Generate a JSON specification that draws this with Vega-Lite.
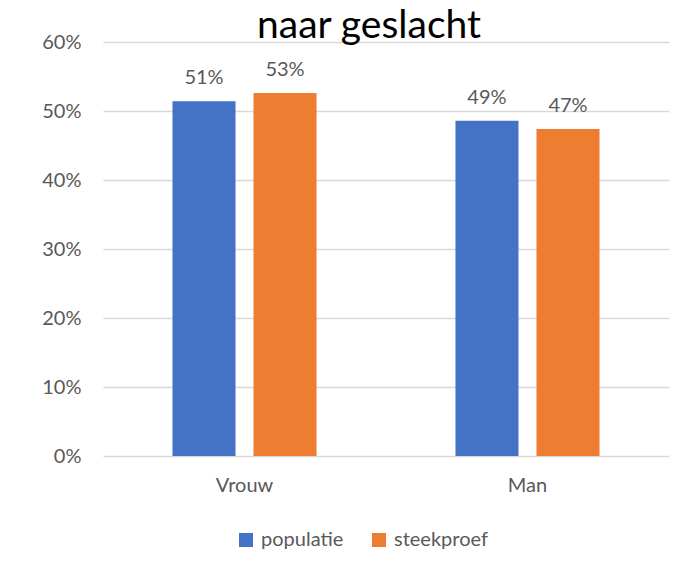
{
  "$schema": "https://vega.github.io/schema/vega-lite/v6.json",
  "width": 566,
  "height": 414,
  "autosize": {"type": "none"},
  "padding": {"left": 103, "top": 42, "right": 17, "bottom": 116},
  "background": "white",
  "title": {
    "text": "naar geslacht",
    "font": "Lato",
    "fontSize": 39,
    "fontWeight": "normal",
    "color": "#000000",
    "anchor": "middle",
    "frame": "group",
    "dx": -17,
    "dy": 49,
    "baseline": "alphabetic",
    "offset": 4
  },
  "data": {
    "values": [
      {"geslacht": "Vrouw", "reeks": "populatie", "waarde": 0.514},
      {"geslacht": "Vrouw", "reeks": "steekproef", "waarde": 0.526},
      {"geslacht": "Man", "reeks": "populatie", "waarde": 0.486},
      {"geslacht": "Man", "reeks": "steekproef", "waarde": 0.474}
    ]
  },
  "encoding": {
    "x": {
      "field": "geslacht",
      "type": "nominal",
      "sort": ["Vrouw", "Man"],
      "scale": {"paddingInner": 0.491, "paddingOuter": 0.2456},
      "axis": {
        "title": null,
        "labelAngle": 0,
        "domain": false,
        "ticks": false,
        "labelFont": "Lato",
        "labelFontSize": 20,
        "labelColor": "#595959",
        "labelPadding": 19
      }
    },
    "xOffset": {
      "field": "reeks",
      "type": "nominal",
      "sort": ["populatie", "steekproef"],
      "scale": {"paddingInner": 0.222}
    },
    "y": {
      "field": "waarde",
      "type": "quantitative",
      "scale": {"domain": [0, 0.6], "nice": false},
      "axis": {
        "title": null,
        "values": [0, 0.1, 0.2, 0.3, 0.4, 0.5, 0.6],
        "format": ".0%",
        "domain": false,
        "ticks": false,
        "grid": true,
        "gridColor": "#D9D9D9",
        "gridWidth": 1.5,
        "labelFont": "Lato",
        "labelFontSize": 20,
        "labelColor": "#595959",
        "labelPadding": 22
      }
    }
  },
  "layer": [
    {
      "mark": {"type": "bar"},
      "encoding": {
        "color": {
          "field": "reeks",
          "type": "nominal",
          "sort": ["populatie", "steekproef"],
          "scale": {"domain": ["populatie", "steekproef"], "range": ["#4472C4", "#ED7D31"]},
          "legend": {
            "title": null,
            "orient": "none",
            "legendX": 133,
            "legendY": 488,
            "direction": "horizontal",
            "symbolType": "square",
            "symbolSize": 196,
            "symbolStrokeWidth": 0,
            "labelFont": "Lato",
            "labelFontSize": 20,
            "labelColor": "#595959",
            "labelOffset": 5,
            "columnPadding": 25,
            "padding": 0
          }
        }
      }
    },
    {
      "mark": {
        "type": "text",
        "dy": -17,
        "baseline": "alphabetic",
        "font": "Lato",
        "fontSize": 20,
        "color": "#595959"
      },
      "encoding": {
        "text": {"field": "waarde", "type": "quantitative", "format": ".0%"}
      }
    }
  ],
  "config": {
    "view": {"stroke": null}
  }
}
